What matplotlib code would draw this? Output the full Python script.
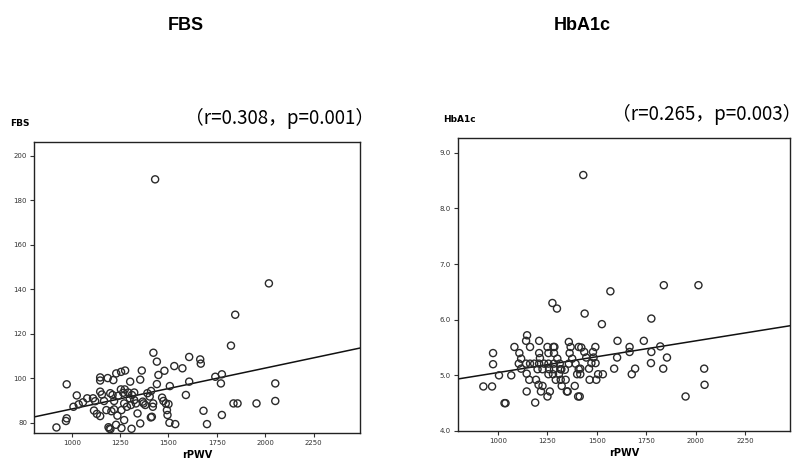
# -*- coding: utf-8 -*-
'''
Scatter plots of FBS and HbA1c against rPWV with regression lines.
'''

import matplotlib
matplotlib.use('Agg')
import matplotlib.pyplot as plt
import numpy as np

# FBS panel (rPWV, FBS)
fbs_x = [1431, 2019, 1845, 1823, 1422, 1607, 1664, 1667, 1440, 1530,
         1572, 1479, 1448, 1742, 1776, 1771, 1607, 1440, 1507, 1590,
         1836, 1857, 1955, 2052, 2052, 1681, 1776, 1699, 1535, 1505,
         1467, 1474, 1486, 1500, 1492, 1495, 1419, 1414,
         1362, 1276, 1255, 1230, 1147, 1147, 1186, 1215, 1354, 974,
         1302, 1026, 1009, 1036, 1058, 1080, 1110, 1121, 1147, 1156,
         1167, 1199, 1211, 1219, 1240, 1254, 1266, 1274, 1292, 1300,
         1311, 1323, 1323, 1332, 1306, 1271, 1285, 1257, 1219, 1205,
         1179, 1115, 1130, 1147, 974, 970, 921, 1236, 1271, 1229,
         1190, 1195, 1200, 1257, 1309, 1354, 1340, 1409, 1371, 1391,
         1403, 1421, 1380, 1410, 1367]
fbs_y = [189.5, 142.7, 128.6, 114.7, 111.5, 109.6, 108.5, 106.6, 107.5, 105.5,
         104.5, 103.4, 101.5, 100.7, 101.8, 97.7, 98.5, 97.4, 96.5, 92.5,
         88.7, 88.7, 88.7, 97.7, 89.8, 85.4, 83.5, 79.4, 79.4, 80.0,
         91.3, 89.8, 88.7, 88.4, 85.7, 83.5, 87.2, 82.7,
         103.5, 103.5, 102.9, 102.2, 100.4, 99.0, 100.1, 99.2, 99.4, 97.3,
         98.5, 92.3, 87.2, 88.3, 89.2, 91.0, 91.0, 89.7, 94.0, 92.7,
         89.8, 93.3, 92.5, 89.8, 92.1, 95.0, 93.5, 95.0, 93.6, 91.0,
         92.5, 93.6, 90.2, 88.7, 88.0, 88.7, 87.2, 85.7, 86.0, 85.2,
         85.7, 85.5, 84.0, 83.0, 82.0, 80.8, 77.9, 83.2, 81.2, 79.1,
         78.0, 77.4, 77.1, 77.6, 77.3, 79.7, 84.2, 82.4, 88.7, 93.3,
         91.8, 88.7, 88.0, 94.3, 89.5]

# HbA1c panel (rPWV, HbA1c)
hba_x = [1431, 1568, 1838, 2013, 1775, 1525, 1438, 1275, 1298,
         1604, 1737, 1665, 1665, 1820, 1775, 1854, 1602, 1773, 1587,
         1693, 1835, 2042, 1676, 2044, 1948, 1413,
         1421, 1436, 1480, 1492, 1446, 1483, 1472, 1493, 1460, 1416,
         1416, 1463, 1497, 1506, 1530,
         926, 970, 975, 975, 1005, 1067, 1033, 1038, 1188,
         1083, 1108, 1117, 1105, 1117, 1147, 1142, 1162, 1208, 1208,
         1212, 1183, 1142, 1162, 1208, 1233, 1145, 1158, 1145, 1192,
         1205, 1225, 1217, 1262, 1250, 1200, 1225, 1250, 1280, 1285,
         1255, 1283, 1300, 1255, 1283, 1312, 1258, 1283, 1315, 1320,
         1255, 1278, 1308, 1292, 1317, 1342, 1322, 1348, 1352, 1405,
         1388, 1358, 1367, 1362, 1375, 1358, 1338, 1408, 1392, 1408,
         1400]
hba_y = [8.60, 6.51, 6.62, 6.62, 6.02, 5.92, 6.11, 6.30, 6.20,
         5.62, 5.62, 5.51, 5.42, 5.52, 5.42, 5.32, 5.32, 5.22, 5.12,
         5.12, 5.12, 5.12, 5.02, 4.83, 4.62, 4.62,
         5.50, 5.42, 5.42, 5.51, 5.32, 5.32, 5.22, 5.22, 5.12, 5.12,
         5.02, 4.92, 4.92, 5.02, 5.02,
         4.80, 4.80, 5.40, 5.20, 5.00, 5.00, 4.50, 4.50, 4.51,
         5.51, 5.40, 5.30, 5.21, 5.12, 5.72, 5.62, 5.51, 5.62, 5.40,
         5.31, 5.21, 5.21, 5.21, 5.21, 5.21, 5.03, 4.92, 4.71, 4.92,
         4.83, 4.81, 4.71, 4.71, 4.62, 5.11, 5.11, 5.51, 5.51, 5.51,
         5.40, 5.40, 5.30, 5.21, 5.21, 5.21, 5.11, 5.11, 5.11, 5.11,
         5.02, 5.02, 5.02, 4.92, 4.92, 4.92, 4.81, 4.71, 4.71, 4.62,
         4.81, 5.60, 5.51, 5.40, 5.30, 5.21, 5.10, 5.51, 5.21, 5.11,
         5.02]

# fitted lines: (slope, intercept)
fbs_fit = (0.0184, 67.8)
hba_fit = (0.00057, 4.48)

x_ticks = [1000, 1250, 1500, 1750, 2000, 2250]
fbs_ticks = [80, 100, 120, 140, 160, 180, 200]
hba_ticks = [4.0, 5.0, 6.0, 7.0, 8.0, 9.0]

titles = ['FBS', 'HbA1c']
ylabels = ['FBS', 'HbA1c']
stats = ['（r=0.308，p=0.001）', '（r=0.265，p=0.003）']


def draw_panel(ax, x, y, fit, xlim, ylim, yticks, yfmt):
    '''One scatter panel with its regression line.'''
    ax.scatter(x, y, s=26, facecolors='none', edgecolors='#2a2a2a',
               linewidths=1.0, zorder=3)
    xs = np.array(xlim)
    ax.plot(xs, fit[0] * xs + fit[1], color='#111111', lw=1.1, zorder=2)
    ax.set_xlim(*xlim)
    ax.set_ylim(*ylim)
    ax.set_xticks(x_ticks)
    ax.set_yticks(yticks)
    ax.set_yticklabels([yfmt.format(v) for v in yticks])
    ax.tick_params(labelsize=5, colors='#333333', length=3, width=0.8,
                   direction='out', pad=2)
    for sp in ax.spines.values():
        sp.set_linewidth(1.0)
        sp.set_color('#222222')
    ax.set_xlabel('rPWV', fontsize=7, fontweight='bold', labelpad=3)


def main():
    plt.rcParams['font.family'] = ['DejaVu Sans']
    fig = plt.figure(figsize=(8.02, 4.68), dpi=100)
    fig.patch.set_facecolor('white')

    ax1 = fig.add_axes([0.0424, 0.0748, 0.4065, 0.6218])
    ax2 = fig.add_axes([0.5711, 0.0791, 0.4140, 0.6254])

    draw_panel(ax1, fbs_x, fbs_y, fbs_fit, (805, 2490), (75.4, 206.3),
               fbs_ticks, '{:d}')
    draw_panel(ax2, hba_x, hba_y, hba_fit, (798, 2476), (4.0, 9.26),
               hba_ticks, '{:.1f}')

    # panel titles
    fig.text(186 / 802, 1 - 26 / 468, titles[0], fontsize=13,
             fontweight='bold', ha='center', va='center',
             family=['Liberation Sans'])
    fig.text(582 / 802, 1 - 26 / 468, titles[1], fontsize=13,
             fontweight='bold', ha='center', va='center',
             family=['Liberation Sans'])

    # small y labels above the axes
    fig.text(10 / 802, 1 - 124 / 468, ylabels[0], fontsize=6.5,
             fontweight='bold', ha='left', va='center')
    fig.text(443 / 802, 1 - 120 / 468, ylabels[1], fontsize=6.5,
             fontweight='bold', ha='left', va='center')

    # correlation statistics
    cjk = ['Noto Sans CJK JP', 'DejaVu Sans']
    fig.text(374 / 802, 1 - 118 / 468, stats[0], fontsize=13.5,
             ha='right', va='center', family=cjk)
    fig.text(801 / 802, 1 - 114 / 468, stats[1], fontsize=13.5,
             ha='right', va='center', family=cjk)

    fig.savefig('out.png', dpi=100, facecolor='white')


if __name__ == '__main__':
    main()
